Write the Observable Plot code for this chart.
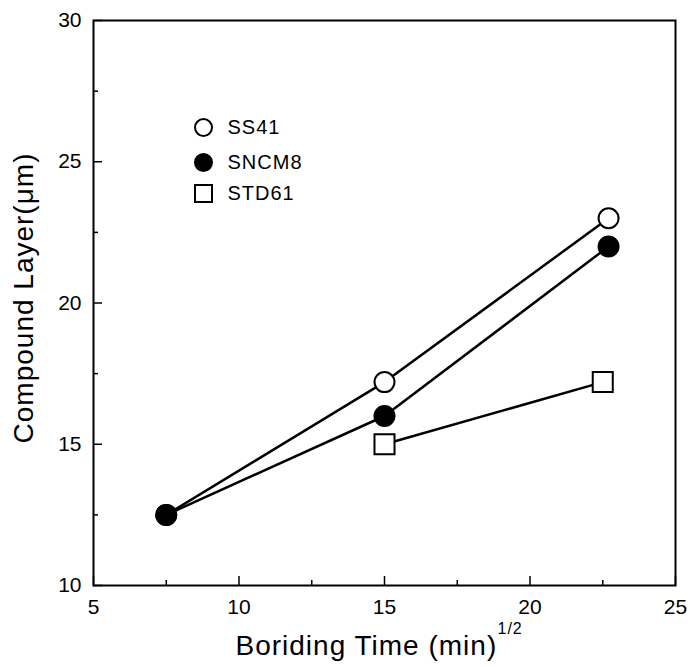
<!DOCTYPE html>
<html><head><meta charset="utf-8">
<script src="https://cdn.jsdelivr.net/npm/d3@7"></script>
<script src="https://cdn.jsdelivr.net/npm/@observablehq/plot@0.6"></script>
<style>
body{margin:0;background:#fff}
#chart g[aria-label="text"] text{letter-spacing:1px}
</style>
</head><body><div id="chart"></div>
<script>
const times = [7.5, 15, 22.7];
const ss41 = [12.5, 17.2, 23.0];
const sncm8 = [12.5, 16.0, 22.0];
const std61Times = [15, 22.5];
const std61 = [15.0, 17.2];
const xMajorTicks = [5, 10, 15, 20, 25];
const xMinorTicks = [7.5, 12.5, 17.5, 22.5];
const yMajorTicks = [10, 15, 20, 25, 30];
const yMinorTicks = [12.5, 17.5, 22.5, 27.5];
const seriesNames = ["SS41", "SNCM8", "STD61"];
const xTitle = "Boriding Time (min)";
const xTitleSup = "1/2";
const yTitle = "Compound Layer(\u03BCm)";

const W = 690, H = 667, ML = 93, MR = 15, MT = 20, MB = 82;
const FW = W - ML - MR, FH = H - MT - MB;

const rows = (xs, ys) => xs.map((x, i) => ({x, y: ys[i]}));
const ssRows = rows(times, ss41);
const snRows = rows(times, sncm8);
const stRows = rows(std61Times, std61);

const legendStyles = [
  {symbol: "circle", r: 8.5, fill: "white"},
  {symbol: "circle", r: 8.5, fill: "black"},
  {symbol: "square", r: 9.6, fill: "white"}
];
const legendDy = [107, 142, 173];
const legendMarks = seriesNames.flatMap((name, i) => [
  Plot.dot([name], {frameAnchor: "top-left", dx: 110, dy: legendDy[i],
    symbol: legendStyles[i].symbol, r: legendStyles[i].r, fill: legendStyles[i].fill,
    stroke: "black", strokeWidth: 2}),
  Plot.text([name], {text: d => d, frameAnchor: "top-left", dx: 134, dy: legendDy[i],
    textAnchor: "start", lineAnchor: "middle", fontSize: 20, fill: "black"})
]);

const chart = Plot.plot({
  width: W, height: H,
  marginLeft: ML, marginRight: MR, marginTop: MT, marginBottom: MB,
  x: {domain: [5, 25]},
  y: {domain: [10, 30]},
  style: {fontFamily: "'Liberation Sans', Arial, sans-serif", background: "white", color: "black", overflow: "visible"},
  marks: [
    Plot.axisX({ticks: xMajorTicks, tickSize: 0, tickPadding: 14, fontSize: 21, label: null}),
    Plot.axisY({ticks: yMajorTicks, tickSize: 0, tickPadding: 12, fontSize: 21, label: null}),
    Plot.tickX(xMajorTicks, {x: d => d, insetTop: FH - 9, stroke: "black", strokeWidth: 1.5}),
    Plot.tickX(xMinorTicks, {x: d => d, insetTop: FH - 5, stroke: "black", strokeWidth: 1.5}),
    Plot.tickY(yMajorTicks, {y: d => d, insetRight: FW - 9, stroke: "black", strokeWidth: 1.5}),
    Plot.tickY(yMinorTicks, {y: d => d, insetRight: FW - 5, stroke: "black", strokeWidth: 1.5}),
    Plot.frame({stroke: "black", strokeWidth: 2}),
    Plot.line(ssRows, {x: "x", y: "y", stroke: "black", strokeWidth: 2.5}),
    Plot.line(snRows, {x: "x", y: "y", stroke: "black", strokeWidth: 2.5}),
    Plot.line(stRows, {x: "x", y: "y", stroke: "black", strokeWidth: 2.5}),
    Plot.dot(ssRows, {x: "x", y: "y", r: 10, fill: "white", stroke: "black", strokeWidth: 2}),
    Plot.dot(snRows, {x: "x", y: "y", r: 10, fill: "black", stroke: "black", strokeWidth: 2}),
    Plot.dot(stRows, {x: "x", y: "y", symbol: "square", r: 11.3, fill: "white", stroke: "black", strokeWidth: 2}),
    ...legendMarks,
    Plot.text([xTitle], {text: d => d, frameAnchor: "bottom-left", dx: 142, dy: 61,
      textAnchor: "start", lineAnchor: "middle", fontSize: 28, fill: "black"}),
    Plot.text([xTitleSup], {text: d => d, frameAnchor: "bottom-left", dx: 404, dy: 43,
      textAnchor: "start", lineAnchor: "middle", fontSize: 16, fill: "black"}),
    Plot.text([yTitle], {text: d => d, frameAnchor: "left", dx: -69, dy: -5, rotate: -90,
      textAnchor: "middle", lineAnchor: "middle", fontSize: 28, fill: "black"})
  ]
});
document.getElementById("chart").append(chart);
</script>
</body></html>
